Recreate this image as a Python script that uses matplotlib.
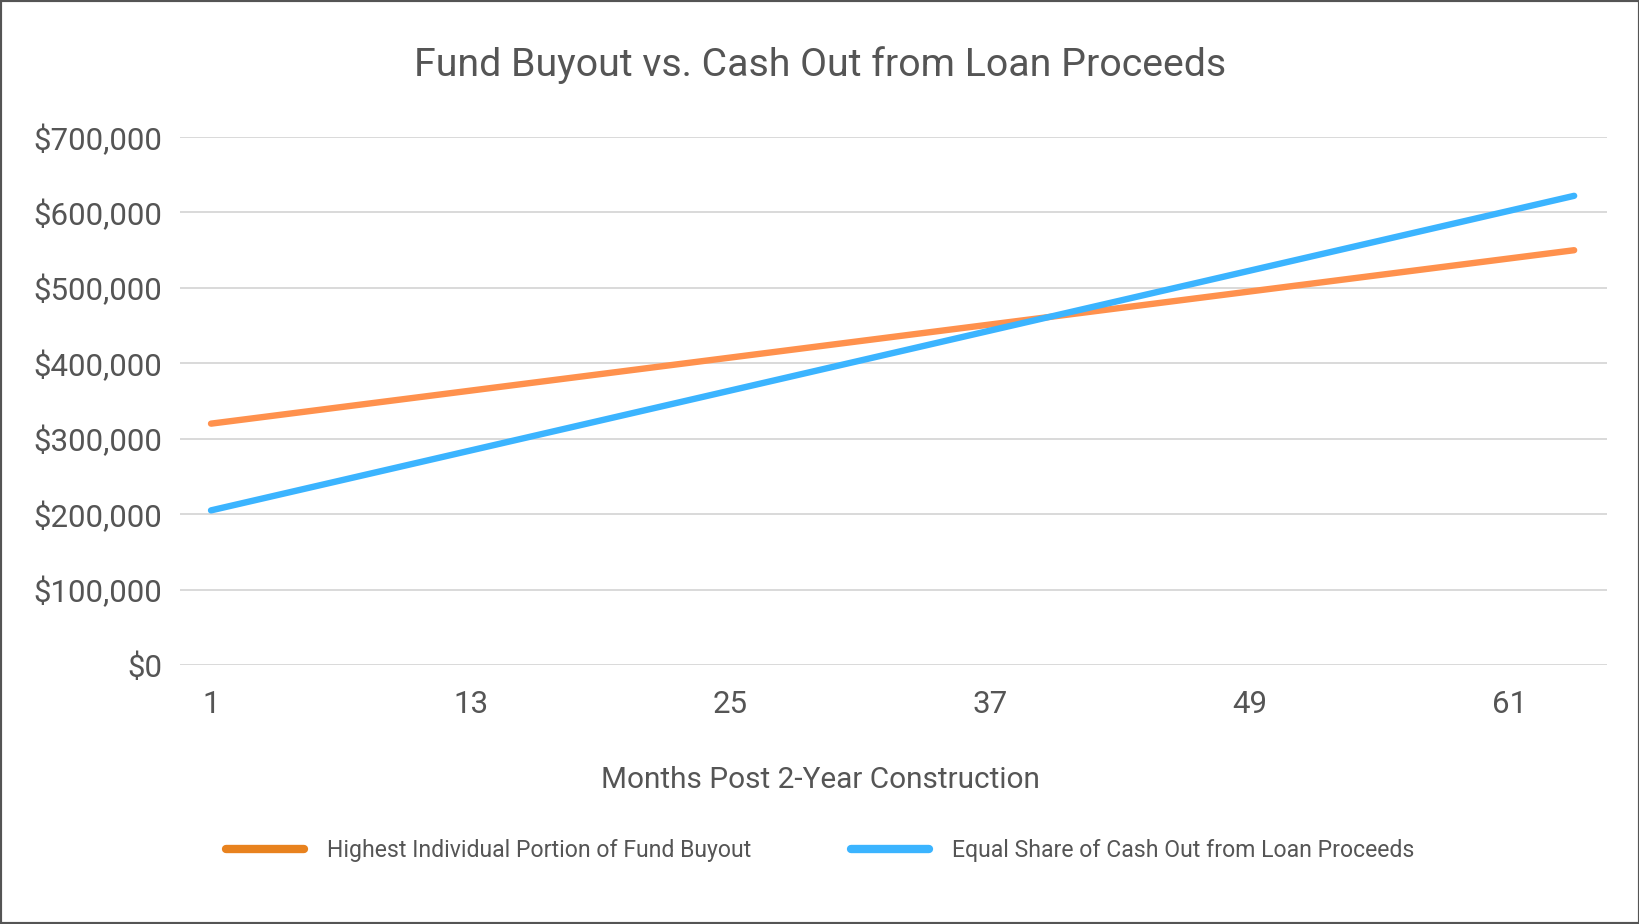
import matplotlib
matplotlib.use("Agg")
import matplotlib.pyplot as plt
from matplotlib.lines import Line2D
from matplotlib.patches import Rectangle
from matplotlib.ticker import FuncFormatter

plt.rcParams["font.family"] = ["Roboto", "DejaVu Sans"]

# =========================
# Data
# =========================
months = list(range(1, 65))

fund_buyout = [
    320000, 323650, 327300, 330950, 334600, 338250, 341900, 345550, 349200, 352850,
    356500, 360150, 363800, 367450, 371100, 374750, 378400, 382050, 385700, 389350,
    393000, 396650, 400300, 403950, 407600, 411250, 414900, 418550, 422200, 425850,
    429500, 433150, 436800, 440450, 444100, 447750, 451400, 455050, 458700, 462350,
    466000, 469650, 473300, 476950, 480600, 484250, 487900, 491550, 495200, 498850,
    502500, 506150, 509800, 513450, 517100, 520750, 524400, 528050, 531700, 535350,
    539000, 542650, 546300, 549950,
]

cash_out = [
    205000, 211620, 218240, 224860, 231480, 238100, 244720, 251340, 257960, 264580,
    271200, 277820, 284440, 291060, 297680, 304300, 310920, 317540, 324160, 330780,
    337400, 344020, 350640, 357260, 363880, 370500, 377120, 383740, 390360, 396980,
    403600, 410220, 416840, 423460, 430080, 436700, 443320, 449940, 456560, 463180,
    469800, 476420, 483040, 489660, 496280, 502900, 509520, 516140, 522760, 529380,
    536000, 542620, 549240, 555860, 562480, 569100, 575720, 582340, 588960, 595580,
    602200, 608820, 615440, 622060,
]

x_ticks = [1, 13, 25, 37, 49, 61]
y_ticks = [0, 100000, 200000, 300000, 400000, 500000, 600000, 700000]

series_labels = [
    "Highest Individual Portion of Fund Buyout",
    "Equal Share of Cash Out from Loan Proceeds",
]

TEXT = "#555555"
ORANGE = "#FF914D"
ORANGE_KEY = "#E8821E"
BLUE = "#3BB4FF"

# =========================
# Figure
# =========================
fig = plt.figure(figsize=(16.4, 9.24), dpi=100)
ax = fig.add_axes([0.1098, 0.2803, 0.8701, 0.5714])

ax.plot(months, fund_buyout, color=ORANGE, lw=4.6, solid_capstyle="round", zorder=3)
ax.plot(months, cash_out, color=BLUE, lw=4.6, solid_capstyle="round", zorder=3)

ax.set_xlim(-0.43, 65.52)
ax.set_ylim(0, 700000)
ax.set_xticks(x_ticks)
ax.set_yticks(y_ticks)
ax.yaxis.set_major_formatter(FuncFormatter(lambda v, p: f"${v:,.0f}"))

ax.grid(axis="y", color="#D9D9D9", lw=1.4)
ax.set_axisbelow(True)
for s in ax.spines.values():
    s.set_visible(False)
ax.tick_params(axis="both", length=0, colors=TEXT, labelsize=22.5)
ax.tick_params(axis="y", pad=13)
ax.tick_params(axis="x", pad=18)

# axis title is centred on the figure, not the plot area
fig.text(0.5, 1 - 780 / 924, "Months Post 2-Year Construction",
         ha="center", va="center", fontsize=21.4, color=TEXT)

fig.text(0.5, 1 - 65 / 924, "Fund Buyout vs. Cash Out from Loan Proceeds",
         ha="center", va="center", fontsize=28.3, color=TEXT)

handles = [
    Line2D([0], [0], color=ORANGE_KEY, lw=6, solid_capstyle="round"),
    Line2D([0], [0], color=BLUE, lw=6, solid_capstyle="round"),
]
fig.legend(handles, series_labels, loc="center", bbox_to_anchor=(0.5, 1 - 851 / 924),
           ncol=2, frameon=False, fontsize=16.6, labelcolor=TEXT,
           handlelength=3.4, handletextpad=1.0, columnspacing=4.3)

# outer frame
fig.patches.append(Rectangle((0, 0), 1, 1, transform=fig.transFigure,
                             fill=False, edgecolor="#555555", lw=3))

fig.savefig("out.png", dpi=100)
